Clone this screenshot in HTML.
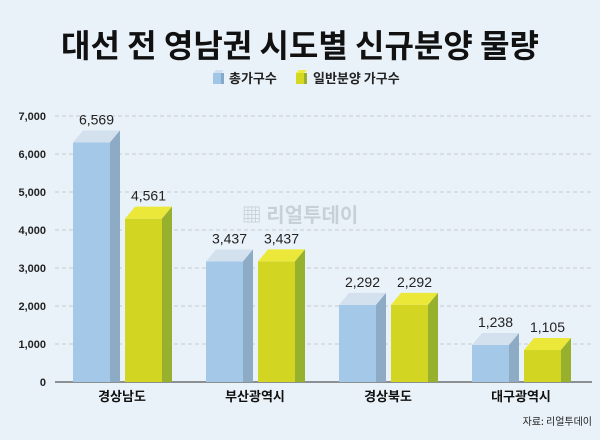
<!DOCTYPE html>
<html><head><meta charset="utf-8"><style>
body{margin:0;width:600px;height:435px;background:#eaf2f9;font-family:"Liberation Sans","Noto Sans CJK KR",sans-serif;overflow:hidden}
</style></head><body>
<svg width="600" height="435" xmlns="http://www.w3.org/2000/svg" id="c">
<rect width="600" height="435" fill="#eaf2f9"/>
<text x="300" y="57" text-anchor="middle" font-size="32" font-weight="bold" fill="#111" font-family="Noto Sans CJK KR, sans-serif">대선 전 영남권 시도별 신규분양 물량</text>
<g font-size="13" font-weight="bold" fill="#222" font-family="Noto Sans CJK KR, sans-serif">
<rect x="213" y="73" width="8" height="11" fill="#9fc6e7"/><polygon points="213,73 216,70 224,70 221,73" fill="#cfe0f0"/><rect x="221" y="73" width="3" height="11" fill="#86a9c8"/>
<text x="229" y="83">총가구수</text>
<rect x="296" y="73" width="8" height="11" fill="#d4d81f"/><polygon points="296,73 299,70 307,70 304,73" fill="#ecec3c"/><rect x="304" y="73" width="3" height="11" fill="#98b02c"/>
<text x="313" y="83">일반분양 가구수</text>
</g>
<text x="300" y="222" text-anchor="middle" font-size="20" font-weight="bold" fill="#b9c3cc" opacity="0.7" font-family="Noto Sans CJK KR, sans-serif">▦ 리얼투데이</text>
<g id="grid"></g><g id="bars"></g>
<text x="592" y="425" text-anchor="end" font-size="10" fill="#222" font-family="Noto Sans CJK KR, sans-serif">자료: 리얼투데이</text>
</svg>
<script>
const categories=["경상남도","부산광역시","경상북도","대구광역시"];
const totalHouseholds=[6569,3437,2292,1238];
const generalSale=[4561,3437,2292,1105];
const yTicks=[0,1000,2000,3000,4000,5000,6000,7000];
const NS="http://www.w3.org/2000/svg";
const y=v=>382-v*38/1000;
const gx=i=>73+i*133;
function mk(t,a,p){const e=document.createElementNS(NS,t);for(const k in a)e.setAttribute(k,a[k]);p.appendChild(e);return e;}
const grid=document.getElementById('grid'),bars=document.getElementById('bars');
yTicks.forEach(t=>{
 if(t>0){const l=mk('line',{x1:55,x2:592,y1:y(t),y2:y(t),stroke:'#c4c9ce','stroke-dasharray':'4,3'},grid);
 
 }
 const tx=mk('text',{x:46,y:y(t)+4,'text-anchor':'end','font-size':11,'font-weight':'bold',fill:'#222'},grid);
 
 
 tx.textContent=t.toLocaleString('en-US');
});
const ax=mk('line',{x1:55,x2:592,y1:382,y2:382,stroke:'#555','stroke-width':1.2},grid);


function bar(x,v,cf,ct,cs,name){
 const g=mk('g',{},bars);
 
 
 const top=y(v)+10,w=37,dx=10,dy=12;
 mk('rect',{x:x,y:top,width:w,height:382-top,fill:cf},g);
 mk('polygon',{points:`${x},${top} ${x+dx},${top-dy} ${x+w+dx},${top-dy} ${x+w},${top}`,fill:ct},g);
 mk('polygon',{points:`${x+w},${top} ${x+w+dx},${top-dy} ${x+w+dx},382 ${x+w},382`,fill:cs},g);
 const t=mk('text',{x:x+w/2+5,y:y(v)-8,'text-anchor':'middle','font-size':14,fill:'#222'},g);
 
 
 t.textContent=v.toLocaleString('en-US');
}
categories.forEach((c,i)=>{
 bar(gx(i),totalHouseholds[i],'#a3c8e8','#d3e1ef','#8eabc6','bar-total-'+i);
 bar(gx(i)+52,generalSale[i],'#d2d622','#ebe83a','#97b02e','bar-general-'+i);
 const t=mk('text',{x:gx(i)+49,y:401,'text-anchor':'middle','font-size':13,'font-weight':'bold',fill:'#111','font-family':'Noto Sans CJK KR, sans-serif'},bars);
 
 
 t.textContent=c;
});
</script>
</body></html>
